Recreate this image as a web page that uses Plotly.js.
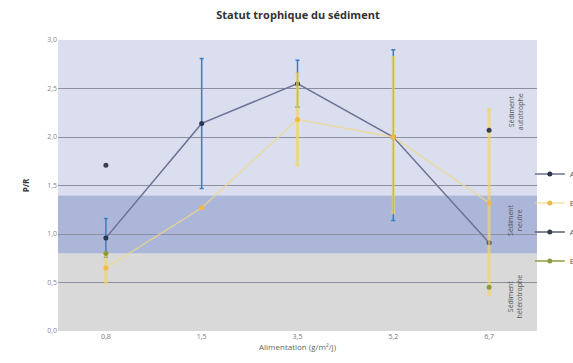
<!DOCTYPE html>
<html><head><meta charset="utf-8">
<script src="https://cdn.plot.ly/plotly-3.0.1.min.js"></script>
<style>html,body{margin:0;padding:0;background:#fff}#c{width:573px;height:363px}</style>
</head><body><div id="c"></div>
<script>
const categories = ['0,8', '1,5', '3,5', '5,2', '6,7'];
const seriesNames = ['Aa', 'B', 'Ab', 'Ec'];
const valuesA1 = [0.96, 2.14, 2.55, 2.0, 0.91];
const errPlusA1 = [0.20, 0.67, 0.24, 0.90, 0];
const errMinusA1 = [0.20, 0.67, 0.24, 0.86, 0];
const valuesB = [0.65, 1.27, 2.18, 2.0, 1.32];
const errPlusB = [0.13, 0, 0.47, 0.82, 0.96];
const errMinusB = [0.15, 0, 0.47, 0.78, 0.94];
const valuesA2 = [1.71, null, null, null, 2.07];
const valuesEc = [0.80, null, null, null, 0.45];
const bands = [
  {y0: 0, y1: 0.8, color: '#d9d9d9', label: 'Sédiment<br>hétérotrophe', ly: 0.36},
  {y0: 0.8, y1: 1.4, color: '#abb6d9', label: 'Sédiment<br>neutre', ly: 1.15},
  {y0: 1.4, y1: 3.0, color: '#dadeee', label: 'Sédiment<br>autotrophe', ly: 2.26}
];
const yTicks = [0, 0.5, 1.0, 1.5, 2.0, 2.5, 3.0];
const yTickText = ['0,0', '0,5', '1,0', '1,5', '2,0', '2,5', '3,0'];

const traces = [
  {x: categories, y: valuesA1, name: seriesNames[0], type: 'scatter', mode: 'lines+markers',
   legendgroup: 'g1', line: {color: '#6b7295', width: 1.5}, marker: {color: '#2b3552', size: 5},
   error_y: {type: 'data', symmetric: false, array: errPlusA1, arrayminus: errMinusA1, color: '#3d7dbf', thickness: 1.5, width: 2}},
  {x: categories, y: valuesB, name: seriesNames[1], type: 'scatter', mode: 'lines+markers',
   legendgroup: 'g2', line: {color: 'rgba(240,218,130,0.7)', width: 1.5}, marker: {color: '#f0b848', size: 5},
   error_y: {type: 'data', symmetric: false, array: errPlusB, arrayminus: errMinusB, color: 'rgba(242,212,100,0.7)', thickness: 3, width: 2}},
  {x: categories, y: valuesA2, name: seriesNames[2], type: 'scatter', mode: 'lines+markers',
   legendgroup: 'g3', line: {color: '#5a5f70', width: 1.5}, marker: {color: '#3a3f50', size: 5}},
  {x: categories, y: valuesEc, name: seriesNames[3], type: 'scatter', mode: 'lines+markers',
   legendgroup: 'g4', line: {color: '#8aa040', width: 1.5}, marker: {color: '#8c9a3a', size: 5}}
];

const shapes = bands.map(b => ({type: 'rect', xref: 'paper', yref: 'y', x0: 0, x1: 1, y0: b.y0, y1: b.y1,
  fillcolor: b.color, line: {width: 0}, layer: 'below'}));
const annotations = bands.map(b => ({xref: 'paper', yref: 'y', x: 0.978, y: b.ly, text: b.label,
  showarrow: false, textangle: -90, font: {family: 'Open Sans', size: 7, color: '#555'}}));

const layout = {
  width: 573, height: 363,
  margin: {l: 58, r: 36, t: 40, b: 32, autoexpand: false},
  paper_bgcolor: '#ffffff', plot_bgcolor: 'rgba(0,0,0,0)',
  font: {family: 'Open Sans', size: 8, color: '#666'},
  title: {text: 'Statut trophique du sédiment', x: 0.52, y: 0.97, yanchor: 'top',
    font: {family: 'Open Sans', size: 11, color: '#333', weight: 'bold'}},
  xaxis: {type: 'category', range: [-0.5, 4.5], tickfont: {size: 7, color: '#777'}, showgrid: false, zeroline: false,
    showline: false, ticks: '',
    title: {text: 'Alimentation (g/m²/j)', standoff: 2, font: {size: 8, color: '#666'}}},
  yaxis: {range: [0, 3], tickvals: yTicks, ticktext: yTickText, tickfont: {size: 7, color: '#888'},
    gridcolor: '#8d8fa0', gridwidth: 1, zeroline: false, showline: false, ticks: '',
    title: {text: '<b>P/R</b>', standoff: 16, font: {size: 8, color: '#333'}}},
  shapes: shapes, annotations: annotations,
  showlegend: true,
  legend: {x: 0.985, xanchor: 'left', y: 0.39, yanchor: 'middle', bgcolor: 'rgba(0,0,0,0)',
    font: {size: 8, color: '#555'}, tracegroupgap: 10, traceorder: 'grouped', itemwidth: 30}
};
Plotly.newPlot('c', traces, layout, {displayModeBar: false, staticPlot: true});
</script></body></html>
